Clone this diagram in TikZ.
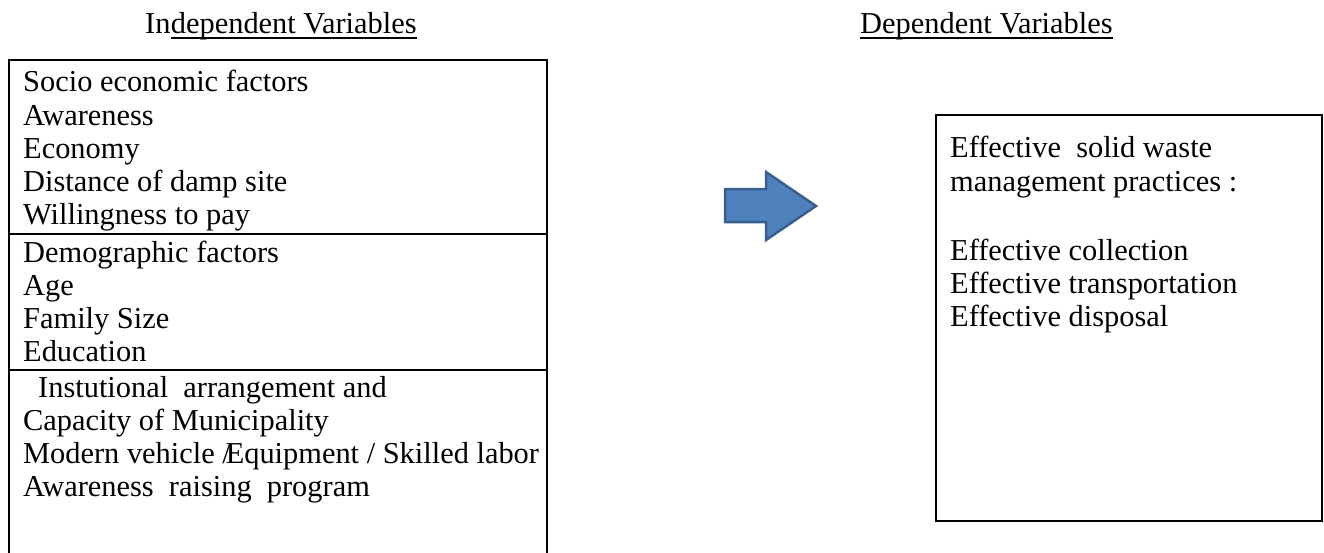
\documentclass[tikz,border=0pt]{standalone}
\usepackage{fontspec}
\setmainfont{Liberation Serif}
\definecolor{arrowfill}{HTML}{4F81BD}
\definecolor{arrowline}{HTML}{3A5F8E}
\begin{document}
\begin{tikzpicture}[x=1pt,y=-1pt,
  txt/.style={inner sep=0pt,anchor=base west,font=\fontsize{30.4}{34}\selectfont},
  frame/.style={draw=black,line width=2.2pt},
  rule/.style={draw=black,line width=1.8pt}]
\useasboundingbox (0,0) rectangle (1324,552);

% headings
\node[txt] (inA) at (145,33) {In};
\node[txt,anchor=base west] (inB) at (inA.base east) {dependent Variables};
\node[txt] (dep) at (860,33) {Dependent Variables};
\draw[rule] ([yshift=-5pt]inB.base west) -- ([yshift=-5pt]inB.base east);
\draw[rule] ([yshift=-5pt]dep.base west) -- ([yshift=-5pt]dep.base east);

% left table
\coordinate (tl) at (9,60);
\coordinate (tr) at (547,60);
\coordinate (bl) at (9,560);
\coordinate (br) at (547,560);
\draw[frame] (bl) -- (tl) -- (tr) -- (br);
\coordinate (d1l) at (9,234);
\coordinate (d1r) at (547,234);
\coordinate (d2l) at (9,370);
\coordinate (d2r) at (547,370);
\draw[frame] (d1l) -- (d1r);
\draw[frame] (d2l) -- (d2r);

\node[txt] (a1) at (23,91)  {Socio economic factors};
\node[txt] (a2) at (23,125) {Awareness};
\node[txt] (a3) at (23,158) {Economy};
\node[txt] (a4) at (23,191) {Distance of damp site};
\node[txt] (a5) at (23,224) {Willingness to pay};

\node[txt] (b1) at (23,262) {Demographic factors};
\node[txt] (b2) at (23,295) {Age};
\node[txt] (b3) at (23,328) {Family Size};
\node[txt] (b4) at (23,361) {Education};

\node[txt] (c1) at (38,397) {Instutional\hspace{0.25em} arrangement and};
\node[txt] (c2) at (23,430) {Capacity of Municipality};
\node[txt] (c3) at (23,463) {Modern vehicle /\kern-0.17em Equipment / Skilled labor};
\node[txt] (c4) at (23,496) {Awareness\hspace{0.25em} raising\hspace{0.25em} program};

% arrow
\filldraw[fill=arrowfill,draw=arrowline,line width=2.5pt,line join=miter]
  (725,189) -- (766,189) -- (766,172) -- (816,206) -- (766,240) -- (766,222) -- (725,222) -- cycle;

% right box
\draw[frame] (936,115) rectangle (1322,521);
\node[txt] (r1) at (950,157) {Effective\hspace{0.25em} solid waste};
\node[txt] (r2) at (950,191) {management practices :};
\node[txt] (r3) at (950,260) {Effective collection};
\node[txt] (r4) at (950,293) {Effective transportation};
\node[txt] (r5) at (950,326) {Effective disposal};
\end{tikzpicture}
\end{document}
